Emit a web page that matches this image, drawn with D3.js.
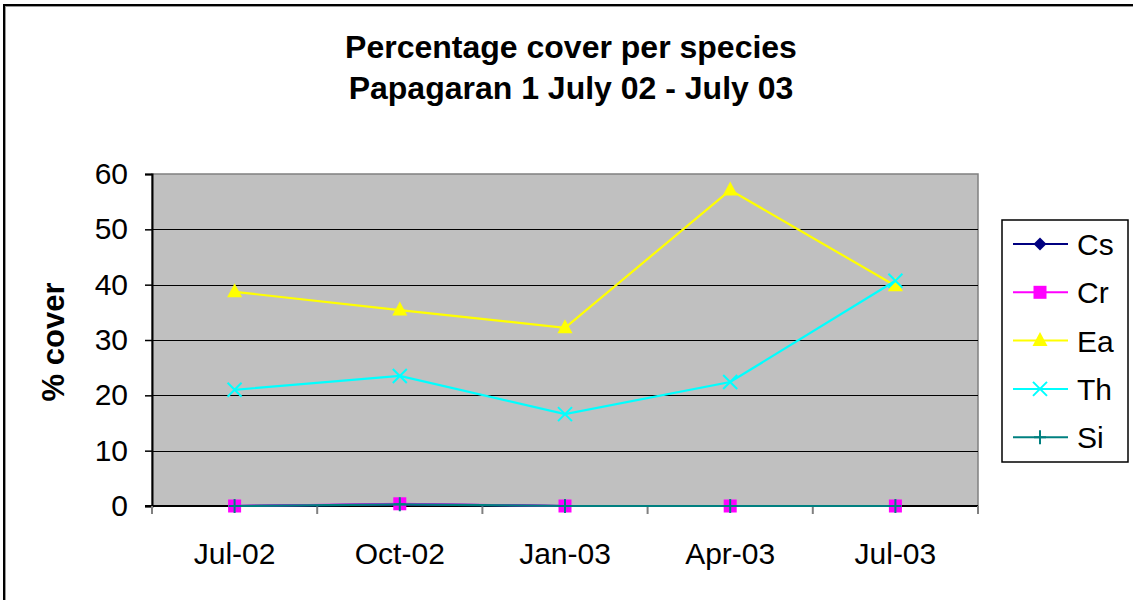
<!DOCTYPE html>
<html><head><meta charset="utf-8">
<script src="https://cdn.jsdelivr.net/npm/d3@7"></script>
<style>body{margin:0;background:#fff}svg{display:block}</style>
</head><body>
<svg id="c" width="1133" height="600"></svg>
<script>
const categories = ["Jul-02","Oct-02","Jan-03","Apr-03","Jul-03"];
const csValues = [0, 0.3, 0, 0, 0];
const crValues = [0, 0.4, 0, 0, 0];
const eaValues = [38.7, 35.4, 32.2, 57.1, 39.8];
const thValues = [21.0, 23.5, 16.6, 22.4, 40.7];
const siValues = [0, 0.3, 0, 0, 0];
const yTicks = [0,10,20,30,40,50,60];
const seriesNames = ["Cs","Cr","Ea","Th","Si"];
const titleLines = ["Percentage cover per species","Papagaran 1 July 02 - July 03"];

const series = [
  {name:"Cs", values:csValues, color:"#000080", marker:"diamond"},
  {name:"Cr", values:crValues, color:"#FF00FF", marker:"square"},
  {name:"Ea", values:eaValues, color:"#FFFF00", marker:"triangle"},
  {name:"Th", values:thValues, color:"#00FFFF", marker:"x"},
  {name:"Si", values:siValues, color:"#008080", marker:"plus"}
];

const svg = d3.select("#c");
const font = "'Liberation Sans', Arial, sans-serif";

// outer chart border
svg.append("rect").attr("x",4).attr("y",5).attr("width",1140).attr("height",610)
  .attr("fill","#fff").attr("stroke","#000").attr("stroke-width",2);
svg.append("line").attr("x1",5).attr("x2",1133).attr("y1",6.5).attr("y2",6.5).attr("stroke","#999").attr("stroke-width",1);
svg.append("line").attr("x1",5.5).attr("x2",5.5).attr("y1",6).attr("y2",600).attr("stroke","#999").attr("stroke-width",1);

const L=152, R=978, T=174, B=506;
const x = d3.scaleBand().domain(categories).range([L,R]);
const y = d3.scaleLinear().domain([0,60]).range([B,T]);

// plot area
svg.append("rect").attr("x",L).attr("y",T).attr("width",R-L).attr("height",B-T)
  .attr("fill","#C0C0C0").attr("stroke","#808080").attr("stroke-width",1.5);

// gridlines
svg.append("g").selectAll("line").data(yTicks.filter(d=>d>0&&d<60)).join("line")
  .attr("x1",L).attr("x2",R).attr("y1",d=>Math.round(y(d))+0.5).attr("y2",d=>Math.round(y(d))+0.5)
  .attr("stroke","#000").attr("stroke-width",1);

// y axis
const yAxis = d3.axisLeft(y).tickValues(yTicks).tickSize(7).tickPadding(17).tickFormat(d3.format("d"));
const gy = svg.append("g").attr("transform",`translate(${L},0)`).call(yAxis);
gy.select(".domain").attr("stroke","#000").attr("stroke-width",2);
gy.selectAll(".tick line").attr("stroke","#000").attr("stroke-width",1.5);
gy.selectAll("text").attr("font-family",font).attr("font-size",30).attr("fill","#000");

// x axis with ticks at band boundaries
const xb = d3.scaleLinear().domain([0,categories.length]).range([L,R]);
const gx = svg.append("g").attr("transform",`translate(0,${B})`);
gx.append("line").attr("x1",L-7).attr("x2",R).attr("y1",0).attr("y2",0).attr("stroke","#000").attr("stroke-width",2);
gx.selectAll("line.tk").data(d3.range(categories.length+1)).join("line").attr("class","tk")
  .attr("x1",d=>xb(d)).attr("x2",d=>xb(d)).attr("y1",0).attr("y2",8).attr("stroke","#808080").attr("stroke-width",2);
gx.selectAll("text").data(categories).join("text")
  .attr("x",d=>x(d)+x.bandwidth()/2).attr("y",58).attr("text-anchor","middle")
  .attr("font-family",font).attr("font-size",30).attr("fill","#000").text(d=>d);

// title
svg.append("g").selectAll("text").data(titleLines).join("text")
  .attr("x",571).attr("y",(d,i)=>58+i*41).attr("text-anchor","middle")
  .attr("font-family",font).attr("font-weight","bold").attr("font-size",32).text(d=>d);

// y label
svg.append("text").attr("transform","translate(64,342) rotate(-90)").attr("text-anchor","middle")
  .attr("font-family",font).attr("font-weight","bold").attr("font-size",31).text("% cover");

function drawMarker(g, type, color){
  if(type==="diamond"){
    g.append("path").attr("d","M0,-6.5L6.5,0L0,6.5L-6.5,0Z").attr("fill",color);
  } else if(type==="square"){
    g.append("rect").attr("x",-6.5).attr("y",-6.5).attr("width",13).attr("height",13).attr("fill",color);
  } else if(type==="triangle"){
    g.append("path").attr("d","M0,-8.5L7.5,5.5L-7.5,5.5Z").attr("fill",color);
  } else if(type==="x"){
    g.append("path").attr("d","M-7,-7L7,7M-7,7L7,-7").attr("stroke",color).attr("stroke-width",2);
  } else if(type==="plus"){
    g.append("path").attr("d","M-6,0L6,0M0,-7L0,7").attr("stroke",color).attr("stroke-width",2);
  }
}

const line = d3.line().x((d,i)=>x(categories[i])+x.bandwidth()/2).y(d=>y(d));
series.forEach(s=>{
  const g = svg.append("g");
  g.append("path").attr("d",line(s.values)).attr("fill","none").attr("stroke",s.color).attr("stroke-width",2.2);
  s.values.forEach((v,i)=>{
    const m = g.append("g").attr("transform",`translate(${x(categories[i])+x.bandwidth()/2},${y(v)})`);
    drawMarker(m, s.marker, s.color);
  });
});

// legend
const lg = svg.append("g");
lg.append("rect").attr("x",1002).attr("y",220).attr("width",126).attr("height",242)
  .attr("fill","#fff").attr("stroke","#000").attr("stroke-width",1.5);
series.forEach((s,i)=>{
  const cy = 244 + i*48.3;
  lg.append("line").attr("x1",1013).attr("x2",1068).attr("y1",cy).attr("y2",cy).attr("stroke",s.color).attr("stroke-width",2);
  const m = lg.append("g").attr("transform",`translate(1040,${cy})`);
  drawMarker(m, s.marker, s.color);
  lg.append("text").attr("x",1077).attr("y",cy+11).attr("font-family",font).attr("font-size",30).text(seriesNames[i]);
});
</script>
</body></html>
